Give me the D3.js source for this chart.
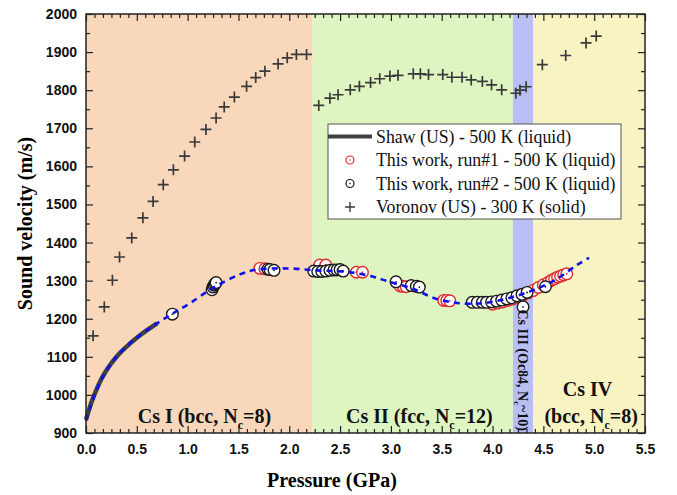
<!DOCTYPE html>
<html>
<head>
<meta charset="utf-8">
<script src="https://cdn.jsdelivr.net/npm/d3@7"></script>
<style>
  body { margin: 0; background: #fff; }
  svg { display: block; }
  .tick text { font-family: "Liberation Sans", Arial, sans-serif; font-weight: bold; font-size: 14px; fill: #111; }
  .axis path, .axis line { stroke: #222; }
</style>
</head>
<body>
<div id="chart"></div>
<script>
// Voronov (US) - 300 K (solid)
var voronovP = [0.07, 0.18, 0.26, 0.33, 0.45, 0.56, 0.66, 0.76, 0.86, 0.97, 1.07, 1.18, 1.28, 1.36, 1.46, 1.58, 1.67, 1.76, 1.89, 1.98, 2.07, 2.17,
                2.29, 2.40, 2.48, 2.60, 2.69, 2.80, 2.89, 2.99, 3.07, 3.22, 3.29, 3.37, 3.51, 3.60, 3.70, 3.79, 3.90, 3.99, 4.09, 4.23, 4.27, 4.33,
                4.49, 4.72, 4.92, 5.02];
var voronovV = [1155, 1231, 1301, 1362, 1412, 1465, 1508, 1552, 1591, 1627, 1664, 1697, 1727, 1756, 1782, 1810, 1833, 1850, 1869, 1885, 1894, 1894,
                1760, 1779, 1788, 1801, 1810, 1820, 1830, 1837, 1839, 1843, 1843, 1841, 1841, 1834, 1834, 1827, 1823, 1814, 1801, 1792, 1800, 1809,
                1867, 1891, 1924, 1942];

// Shaw (US) - 500 K (liquid)
var shawP = [0, 0.05, 0.1, 0.15, 0.2, 0.3, 0.4, 0.5, 0.6, 0.7];
var shawV = [935, 978, 1012, 1041, 1064, 1100, 1127, 1150, 1170, 1188];

// dashed fit
var fitP = [0, 0.1, 0.2, 0.3, 0.4, 0.5, 0.6, 0.7, 0.85, 1.02, 1.25, 1.52, 1.68, 1.98, 2.27, 2.57, 2.8, 2.96, 3.22, 3.45, 3.71, 3.94, 4.17, 4.4, 4.63, 4.83, 4.95];
var fitV = [932, 1010, 1063, 1100, 1128, 1150, 1170, 1188, 1213, 1240, 1281, 1317, 1329, 1332, 1327, 1323, 1312, 1299, 1278, 1252, 1240, 1242, 1255, 1275, 1304, 1341, 1360];

// This work, run#1
var run1P = [1.71, 1.76, 2.30, 2.36, 2.66, 2.72, 3.09, 3.12, 3.15, 3.52, 3.55, 3.58,
             4.00, 4.05, 4.10, 4.15, 4.20, 4.25, 4.30, 4.35, 4.40, 4.45, 4.50, 4.55, 4.58, 4.61, 4.64, 4.67, 4.70, 4.73];
var run1V = [1332, 1331, 1341, 1341, 1322, 1322, 1286, 1285, 1284, 1248, 1248, 1247,
             1238, 1241, 1244, 1248, 1252, 1257, 1262, 1268, 1274, 1282, 1289, 1296, 1301, 1305, 1309, 1312, 1315, 1318];

// This work, run#2
var run2P = [0.85, 1.24, 1.25, 1.26, 1.27, 1.28, 1.79, 1.81, 1.85,
             2.24, 2.28, 2.32, 2.36, 2.40, 2.44, 2.47, 2.50, 2.53, 3.05, 3.20, 3.25, 3.28,
             4.30, 3.80, 3.85, 3.90, 3.94, 3.99, 4.04, 4.09, 4.14, 4.19, 4.24, 4.29, 4.34, 4.52];
var run2V = [1212, 1276, 1283, 1288, 1292, 1295, 1330, 1329, 1327,
             1325, 1324, 1324, 1325, 1327, 1328, 1328, 1329, 1325, 1297, 1287, 1285, 1283,
             1231, 1243, 1243, 1243, 1243, 1244, 1246, 1249, 1252, 1255, 1260, 1264, 1269, 1284];

// phase regions
var phaseStart = [0, 2.23, 4.2, 4.4];
var phaseEnd = [2.23, 4.2, 4.4, 5.5];
var phaseColors = ["#f9d7ba", "#dff5c1", "#b9bff5", "#f8f3c3"];

var xTicks = [0, 0.5, 1, 1.5, 2, 2.5, 3, 3.5, 4, 4.5, 5, 5.5];
var yTicks = [900, 1000, 1100, 1200, 1300, 1400, 1500, 1600, 1700, 1800, 1900, 2000];

var legendLabels = ["Shaw (US) - 500 K (liquid)", "This work, run#1 - 500 K (liquid)",
                    "This work, run#2 - 500 K (liquid)", "Voronov (US) - 300 K (solid)"];

var zip = function(a, b) { return a.map(function(d, i) { return {p: d, v: b[i]}; }); };

var W = 677, H = 495;
var padding = {top: 14, right: 32, bottom: 62, left: 86};
var width = W - padding.left - padding.right;
var height = H - padding.top - padding.bottom;

var x = d3.scaleLinear().domain([0, 5.5]).range([0, width]);
var y = d3.scaleLinear().domain([900, 2000]).range([height, 0]);

var svg = d3.select("#chart").append("svg")
    .attr("width", W)
    .attr("height", H);

var vis = svg.append("g")
    .attr("transform", "translate(" + padding.left + "," + padding.top + ")");

// background phases
vis.selectAll("rect.phase").data(phaseStart).enter().append("rect")
    .attr("class", "phase")
    .attr("x", function(d) { return x(d); })
    .attr("y", 0)
    .attr("width", function(d, i) { return x(phaseEnd[i]) - x(d); })
    .attr("height", height)
    .style("fill", function(d, i) { return phaseColors[i]; });

// axes (ticks inward)
var minorX = d3.range(0, 66).map(function(i) { return i * 0.5 / 6; }).filter(function(d) { return Math.abs(d * 2 - Math.round(d * 2)) > 1e-6; });
var minorY = d3.range(950, 2000, 100);

function addAxis(gen, tx, ty, cls) {
    var g = vis.append("g").attr("class", "axis " + cls)
        .attr("transform", "translate(" + tx + "," + ty + ")")
        .call(gen);
    g.select(".domain").remove();
    g.selectAll("line").attr("stroke-width", 1.2);
    return g;
}

addAxis(d3.axisBottom(x).tickValues(xTicks).tickFormat(d3.format(".1f")).tickSize(-7).tickPadding(11), 0, height, "xb");
addAxis(d3.axisBottom(x).tickValues(minorX).tickFormat("").tickSize(-4), 0, height, "xbm");
addAxis(d3.axisTop(x).tickValues(xTicks).tickFormat("").tickSize(-7), 0, 0, "xt");
addAxis(d3.axisTop(x).tickValues(minorX).tickFormat("").tickSize(-4), 0, 0, "xtm");
addAxis(d3.axisLeft(y).tickValues(yTicks).tickFormat(d3.format("d")).tickSize(-7).tickPadding(9), 0, 0, "yl");
addAxis(d3.axisLeft(y).tickValues(minorY).tickFormat("").tickSize(-4), 0, 0, "ylm");
addAxis(d3.axisRight(y).tickValues(yTicks).tickFormat("").tickSize(-7), width, 0, "yr");
addAxis(d3.axisRight(y).tickValues(minorY).tickFormat("").tickSize(-4), width, 0, "yrm");

// Voronov crosses
vis.selectAll("path.voronov").data(zip(voronovP, voronovV)).enter().append("path")
    .attr("class", "voronov")
    .attr("d", "M-5.5,0H5.5M0,-5.5V5.5")
    .attr("transform", function(d) { return "translate(" + x(d.p) + "," + y(d.v) + ")"; })
    .style("stroke", "#3a3a3a")
    .style("stroke-width", 1.7)
    .style("fill", "none");

// Shaw line
var line = d3.line()
    .x(function(d) { return x(d.p); })
    .y(function(d) { return y(d.v); })
    .curve(d3.curveMonotoneX);

vis.append("path")
    .datum(zip(shawP, shawV))
    .attr("d", line)
    .style("fill", "none")
    .style("stroke", "#404040")
    .style("stroke-width", 4.5);

// circles
function drawRun(data, colour, cls) {
    var g = vis.selectAll("g." + cls).data(data).enter().append("g")
        .attr("class", cls)
        .attr("transform", function(d) { return "translate(" + x(d.p) + "," + y(d.v) + ")"; });
    g.append("circle")
        .attr("r", 5.8)
        .style("fill", "#fff")
        .style("stroke", colour)
        .style("stroke-width", 1.4);
    g.append("circle")
        .attr("r", 0.9)
        .style("fill", colour);
}
drawRun(zip(run1P, run1V), "#e02b2b", "run1");
drawRun(zip(run2P, run2V), "#1a1a1a", "run2");

// fit
vis.append("path")
    .datum(zip(fitP, fitV))
    .attr("d", line.curve(d3.curveCatmullRom))
    .style("fill", "none")
    .style("stroke", "#1010ee")
    .style("stroke-width", 2.6)
    .style("stroke-dasharray", "6,5");

// frame
vis.append("rect")
    .attr("width", width)
    .attr("height", height)
    .style("fill", "none")
    .style("stroke", "#222")
    .style("stroke-width", 1.5);

// phase labels
var serif = "'Liberation Serif', 'Times New Roman', serif";
function phaseLabel(px, pv, main, sub, rest, size, rotate) {
    var t = vis.append("text")
        .attr("text-anchor", "middle")
        .style("font-family", serif)
        .style("font-weight", "bold")
        .style("font-size", size + "px")
        .style("fill", "#111");
    if (rotate) {
        t.attr("transform", "translate(" + x(px) + "," + y(pv) + ") rotate(90)");
    } else {
        t.attr("x", x(px)).attr("y", y(pv));
    }
    t.append("tspan").text(main);
    if (sub) {
        t.append("tspan").text(sub).attr("dy", size * 0.3).style("font-size", (size * 0.6) + "px");
        t.append("tspan").text(rest).attr("dy", -size * 0.3);
    }
}
phaseLabel(1.165, 927, "Cs I (bcc, N", "c", "=8)", 20, false);
phaseLabel(3.28, 927, "Cs II (fcc, N", "c", "=12)", 20, false);
phaseLabel(4.255, 1065, "Cs III (Oc84, N", "c", "~10)", 14, true);
phaseLabel(4.935, 996, "Cs IV", "", "", 20, false);
phaseLabel(4.97, 925, "(bcc, N", "c", "=8)", 20, false);

// legend
var legend = vis.append("g")
    .attr("transform", "translate(" + (328 - padding.left) + "," + (124 - padding.top) + ")");
legend.append("rect")
    .attr("width", 293)
    .attr("height", 95)
    .style("fill", "#fff")
    .style("stroke", "#555")
    .style("stroke-width", 1);

var rowY = [12.5, 36, 59.5, 83];
legend.append("line")
    .attr("x1", 0).attr("x2", 44)
    .attr("y1", rowY[0]).attr("y2", rowY[0])
    .style("stroke", "#404040").style("stroke-width", 4);
[["#e02b2b", 1], ["#1a1a1a", 2]].forEach(function(c) {
    legend.append("circle").attr("cx", 22).attr("cy", rowY[c[1]]).attr("r", 4)
        .style("fill", "#fff").style("stroke", c[0]).style("stroke-width", 1.2);
    legend.append("circle").attr("cx", 22).attr("cy", rowY[c[1]]).attr("r", 0.8).style("fill", c[0]);
});
legend.append("path")
    .attr("d", "M-5,0H5M0,-5V5")
    .attr("transform", "translate(22," + rowY[3] + ")")
    .style("stroke", "#3a3a3a").style("stroke-width", 1.4);

legend.selectAll("text.leg").data(legendLabels).enter().append("text")
    .attr("class", "leg")
    .attr("x", 48)
    .attr("y", function(d, i) { return rowY[i]; })
    .attr("dy", "0.35em")
    .style("font-family", serif)
    .style("font-size", "17.8px")
    .style("fill", "#111")
    .text(function(d) { return d; });

// axis titles
svg.append("text")
    .attr("x", padding.left + x(2.42))
    .attr("y", 487)
    .attr("text-anchor", "middle")
    .style("font-family", serif)
    .style("font-weight", "bold")
    .style("font-size", "20px")
    .text("Pressure (GPa)");

svg.append("text")
    .attr("transform", "translate(32," + (padding.top + y(1450)) + ") rotate(-90)")
    .attr("text-anchor", "middle")
    .style("font-family", serif)
    .style("font-weight", "bold")
    .style("font-size", "20px")
    .text("Sound velocity (m/s)");
</script>
</body>
</html>
